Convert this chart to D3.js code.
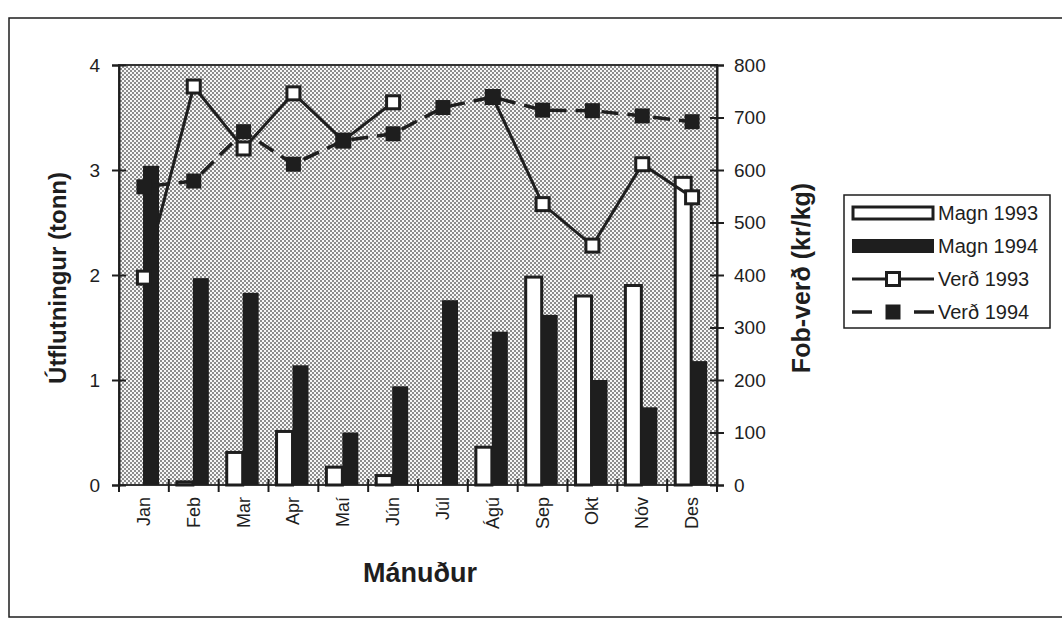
<!DOCTYPE html>
<html lang="is">
<head>
<meta charset="UTF-8">
<title>Útflutningur og Fob-verð</title>
<script src="https://d3js.org/d3.v7.min.js"></script>
<style>
  body { margin: 0; padding: 0; background: #fff; }
  svg { font-family: "Liberation Sans", Arial, Helvetica, sans-serif; }
</style>
</head>
<body>
<div id="chart"></div>
<script>
// months and series
const months = ["Jan", "Feb", "Mar", "Apr", "Maí", "Jún", "Júl", "Ágú", "Sep", "Okt", "Nóv", "Des"];
const magn1993 = [0, 0.03, 0.31, 0.51, 0.17, 0.09, 0, 0.36, 1.98, 1.80, 1.90, 2.93];
const magn1994 = [3.04, 1.97, 1.83, 1.14, 0.50, 0.94, 1.76, 1.46, 1.62, 1.00, 0.74, 1.18];
const verd1993 = [395, 759, 641, 746, 656, 729, null, 739, 535, 456, 611, 548];
const verd1994 = [568, 579, 673, 611, 656, 669, 719, 739, 714, 713, 703, 692];
const leftTicks = [0, 1, 2, 3, 4];
const rightTicks = [0, 100, 200, 300, 400, 500, 600, 700, 800];

const W = 1062, H = 620;
const plot = {left: 119, right: 717, top: 65, bottom: 485};
const ink = "#1e1e1e";

const svg = d3.select("#chart").append("svg")
    .attr("width", W).attr("height", H);

// stipple pattern for the plot background
const defs = svg.append("defs");
const pat = defs.append("pattern")
    .attr("id", "dots").attr("patternUnits", "userSpaceOnUse")
    .attr("width", 4).attr("height", 4);
pat.append("rect").attr("width", 4).attr("height", 4).attr("fill", "#f7f7f7");
pat.append("rect").attr("x", 0).attr("y", 0).attr("width", 2).attr("height", 2).attr("fill", "#8c8c8c");
pat.append("rect").attr("x", 2).attr("y", 2).attr("width", 2).attr("height", 2).attr("fill", "#8c8c8c");

// outer frame
svg.append("path")
    .attr("d", `M${W + 5},18 L9,18 L9,617 L${W + 5},617`)
    .attr("fill", "none").attr("stroke", ink).attr("stroke-width", 1.5);

// scales
const x = d3.scaleBand().domain(months).range([plot.left, plot.right]);
const xs = d3.scaleBand().domain(["1993", "1994"]).range([0, x.bandwidth()])
    .paddingOuter(0.56).align(0.45);
const yL = d3.scaleLinear().domain([0, 4]).range([plot.bottom, plot.top]);
const yR = d3.scaleLinear().domain([0, 800]).range([plot.bottom, plot.top]);

// plot area
svg.append("rect")
    .attr("x", plot.left).attr("y", plot.top)
    .attr("width", plot.right - plot.left).attr("height", plot.bottom - plot.top)
    .attr("fill", "url(#dots)").attr("stroke", "#333").attr("stroke-width", 2);

// bars
const bars = svg.append("g");
bars.selectAll(".b93").data(months.map((m, i) => ({m, v: magn1993[i]})).filter(d => d.v > 0))
  .join("rect")
    .attr("x", d => x(d.m) + xs("1993"))
    .attr("y", d => yL(d.v))
    .attr("width", xs.bandwidth())
    .attr("height", d => yL(0) - yL(d.v))
    .attr("fill", "#fff").attr("stroke", ink).attr("stroke-width", 3);
bars.selectAll(".b94").data(months.map((m, i) => ({m, v: magn1994[i]})))
  .join("rect")
    .attr("x", d => x(d.m) + xs("1994"))
    .attr("y", d => yL(d.v))
    .attr("width", xs.bandwidth())
    .attr("height", d => yL(0) - yL(d.v))
    .attr("fill", ink);

// axes
const axL = svg.append("g").attr("transform", `translate(${plot.left},0)`)
    .call(d3.axisLeft(yL).tickValues(leftTicks).tickFormat(d3.format("d")).tickSize(7).tickPadding(12));
axL.selectAll(".tick").append("line").attr("x2", 7).attr("stroke", "currentColor");
const axR = svg.append("g").attr("transform", `translate(${plot.right},0)`)
    .call(d3.axisRight(yR).tickValues(rightTicks).tickSize(7).tickPadding(10));
axR.selectAll(".tick").append("line").attr("x2", -7).attr("stroke", "currentColor");
[axL, axR].forEach(a => {
  a.attr("color", ink);
  a.select(".domain").attr("stroke-width", 2);
  a.selectAll(".tick line").attr("stroke-width", 2);
  a.selectAll("text").attr("font-size", 19).attr("fill", ink);
});

// x axis: ticks on band edges, labels at centres
const edges = months.map(m => x(m)).concat([plot.right]);
svg.append("g").selectAll("line").data(edges).join("line")
    .attr("x1", d => d).attr("x2", d => d)
    .attr("y1", plot.bottom - 6).attr("y2", plot.bottom + 7)
    .attr("stroke", ink).attr("stroke-width", 2);
svg.append("g").selectAll("text").data(months).join("text")
    .attr("transform", d => `translate(${x(d) + x.bandwidth() / 2},${plot.bottom + 12}) rotate(-90)`)
    .attr("text-anchor", "end").attr("dominant-baseline", "central")
    .attr("font-size", 18).attr("fill", ink)
    .text(d => d);

// price lines
const line = d3.line()
    .defined(d => d.v != null)
    .x(d => x(d.m) + x.bandwidth() / 2)
    .y(d => yR(d.v));
const p93 = months.map((m, i) => ({m, v: verd1993[i]}));
const p94 = months.map((m, i) => ({m, v: verd1994[i]}));

svg.append("path").datum(p93).attr("d", line)
    .attr("fill", "none").attr("stroke", ink).attr("stroke-width", 3);
svg.append("g").selectAll("rect").data(p93.filter(d => d.v != null)).join("rect")
    .attr("x", d => x(d.m) + x.bandwidth() / 2 - 6.5)
    .attr("y", d => yR(d.v) - 6.5)
    .attr("width", 13).attr("height", 13)
    .attr("fill", "#fff").attr("stroke", ink).attr("stroke-width", 3);

svg.append("path").datum(p94).attr("d", line)
    .attr("fill", "none").attr("stroke", ink).attr("stroke-width", 3.5)
    .attr("stroke-dasharray", "17 9").attr("stroke-dashoffset", -9);
svg.append("g").selectAll("rect").data(p94).join("rect")
    .attr("x", d => x(d.m) + x.bandwidth() / 2 - 7.5)
    .attr("y", d => yR(d.v) - 7.5)
    .attr("width", 15).attr("height", 15)
    .attr("fill", ink);

// axis titles
svg.append("text")
    .attr("transform", `translate(57,${(plot.top + plot.bottom) / 2 + 3}) rotate(-90)`)
    .attr("text-anchor", "middle").attr("dominant-baseline", "central")
    .attr("font-size", 24).attr("font-weight", "bold").attr("fill", ink)
    .text("Útflutningur (tonn)");
svg.append("text")
    .attr("transform", `translate(801,${(plot.top + plot.bottom) / 2 + 3}) rotate(-90)`)
    .attr("text-anchor", "middle").attr("dominant-baseline", "central")
    .attr("font-size", 25).attr("font-weight", "bold").attr("fill", ink)
    .text("Fob-verð (kr/kg)");
svg.append("text")
    .attr("x", 420).attr("y", 582)
    .attr("text-anchor", "middle")
    .attr("font-size", 27).attr("font-weight", "bold").attr("fill", ink)
    .text("Mánuður");

// legend
const lg = svg.append("g").attr("transform", "translate(844,195)");
lg.append("rect").attr("width", 206).attr("height", 133)
    .attr("fill", "#fff").attr("stroke", ink).attr("stroke-width", 1.5);
const items = [
  {label: "Magn 1993", kind: "bar93"},
  {label: "Magn 1994", kind: "bar94"},
  {label: "Verð 1993", kind: "line93"},
  {label: "Verð 1994", kind: "line94"}
];
items.forEach((it, i) => {
  const cy = 18 + i * 33;
  const g = lg.append("g").attr("transform", `translate(0,${cy})`);
  if (it.kind === "bar93") {
    g.append("rect").attr("x", 9).attr("y", -6).attr("width", 80).attr("height", 12)
        .attr("fill", "#fff").attr("stroke", ink).attr("stroke-width", 3);
  } else if (it.kind === "bar94") {
    g.append("rect").attr("x", 8).attr("y", -7).attr("width", 82).attr("height", 14)
        .attr("fill", ink);
  } else if (it.kind === "line93") {
    g.append("line").attr("x1", 8).attr("x2", 90).attr("stroke", ink).attr("stroke-width", 3);
    g.append("rect").attr("x", 42.5).attr("y", -6.5).attr("width", 13).attr("height", 13)
        .attr("fill", "#fff").attr("stroke", ink).attr("stroke-width", 3);
  } else {
    g.append("line").attr("x1", 8).attr("x2", 28).attr("stroke", ink).attr("stroke-width", 3.5);
    g.append("line").attr("x1", 70).attr("x2", 90).attr("stroke", ink).attr("stroke-width", 3.5);
    g.append("rect").attr("x", 41.5).attr("y", -7.5).attr("width", 15).attr("height", 15)
        .attr("fill", ink);
  }
  g.append("text").attr("x", 94).attr("dominant-baseline", "central")
      .attr("font-size", 20).attr("fill", ink).text(it.label);
});
</script>
</body>
</html>
